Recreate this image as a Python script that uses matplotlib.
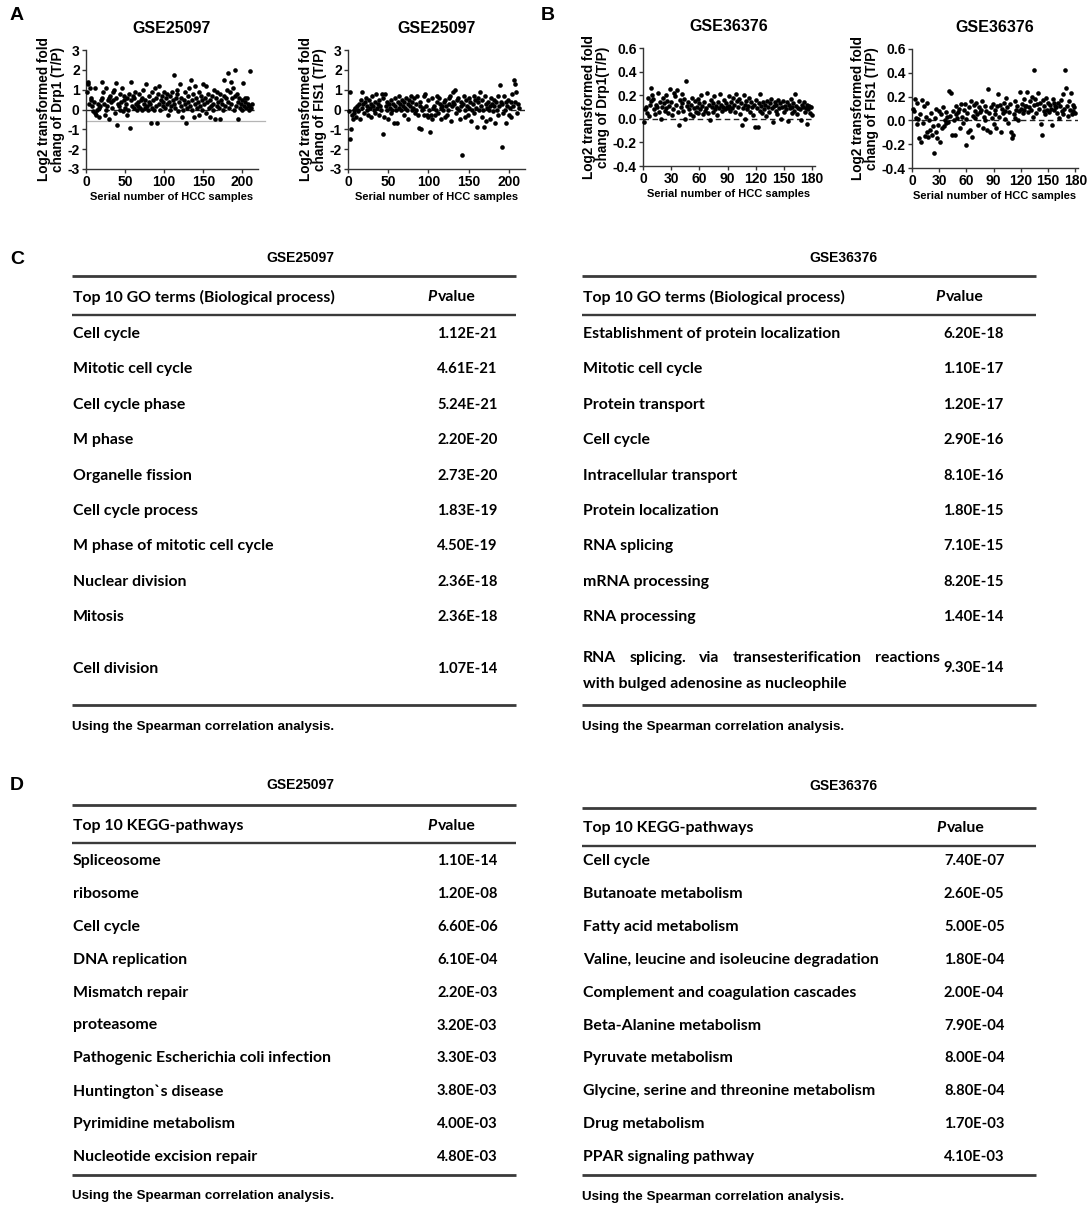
import matplotlib
matplotlib.use("Agg")
import matplotlib.pyplot as plt
from matplotlib.lines import Line2D
import numpy as np

plt.rcParams['font.family'] = ['Liberation Sans', 'DejaVu Sans']

W, H = 1092, 1207

# ---------------- scatter data ----------------
drp1_25097 = [
    0.9, 1.3, 1.4, 0.3, 1.1, 0.6, 0.5, 0.2, -0.1, 0.4,
    1.1, -0.2, -0.3, 0.0, 0.3, -0.4, 0.1, 0.2, 0.5, 1.4,
    0.6, 0.9, 0.3, -0.3, 0.0, 1.1, 0.2, 0.5, 0.6, -0.5,
    0.7, 0.4, 0.1, 0.5, 0.9, 1.0, -0.2, 1.35, 0.6, -0.8,
    0.3, 0.2, 0.8, 0.0, 0.4, 1.1, -0.1, 0.5, 0.7, 0.1,
    0.3, 0.6, -0.3, 0.0, 0.8, -0.95, 1.4, 0.5, 0.2, 0.7,
    0.1, 0.6, 0.9, 0.3, 0.0, 0.4, 0.2, 0.8, 0.1, 0.5,
    0.6, 0.0, 1.0, 0.3, 0.1, 0.5, 1.3, 0.2, 0.0, 0.4,
    0.7, 0.3, -0.7, 0.1, 0.9, 0.5, 0.0, 1.1, 0.2, 0.6,
    -0.7, 0.8, 0.3, 1.2, 0.0, 0.5, 0.7, 0.4, 0.2, 0.9,
    0.1, 0.6, 0.3, 0.8, -0.3, 0.4, 0.0, 0.7, 0.2, 0.9,
    0.5, 1.75, 0.3, 0.1, 0.6, 0.8, 1.0, -0.1, 0.4, 1.3,
    0.2, 0.6, -0.4, 0.0, 0.5, 0.3, 0.9, -0.7, 0.1, 0.4,
    0.7, 1.1, 0.2, 1.5, 0.0, 0.5, 0.8, -0.4, 0.3, 1.2,
    0.6, 0.1, 0.4, -0.3, 0.9, 0.2, 0.7, 0.5, 0.0, 1.3,
    0.3, 0.6, 1.2, -0.2, 0.4, 0.8, 0.1, 0.5, -0.4, 0.2,
    0.7, 0.0, 0.3, 1.0, -0.5, 0.6, 0.2, 0.9, 0.4, 0.1,
    0.8, -0.5, 0.5, 0.3, 0.0, 0.7, 1.5, 0.2, 0.6, 1.0,
    0.4, 1.85, 0.1, 0.9, 0.3, 1.4, 0.6, 1.1, 0.0, 2.0,
    0.7, 0.2, 0.8, 0.4, -0.5, 0.6, 0.1, 0.3, 0.0, 0.5,
    1.35, 0.2, 0.4, 0.6, 0.1, 0.6, 0.3, 0.0, 0.2, 1.95,
    0.1, 0.3,
]

fis1_25097 = [
    -0.1, -1.5, 0.9, -1.0, -0.3, -0.5, 0.0, -0.2, 0.1, -0.4,
    0.2, -0.1, 0.0, 0.3, -0.5, 0.5, 0.1, 0.9, 0.3, -0.2,
    0.4, 0.6, 0.0, 0.2, -0.3, 0.5, 0.1, 0.3, -0.4, 0.7,
    0.2, 0.0, 0.4, -0.2, 0.8, 0.1, 0.3, -0.3, 0.5, 0.2,
    0.0, 0.8, -1.25, 0.6, -0.4, 0.8, 0.2, 0.4, 0.0, -0.5,
    0.3, 0.1, 0.5, -0.2, 0.0, 0.3, -0.7, 0.2, 0.6, 0.0,
    -0.7, 0.4, 0.1, 0.7, 0.3, 0.0, 0.5, 0.2, -0.3, 0.4,
    0.1, 0.6, 0.0, 0.3, -0.5, 0.5, 0.2, 0.7, 0.4, 0.0,
    0.1, 0.6, -0.2, 0.3, 0.0, 0.7, -0.3, -0.95, 0.2, 0.4,
    -1.0, 0.0, 0.1, 0.7, -0.3, 0.8, 0.2, -0.3, 0.5, -0.4,
    0.0, -1.15, -0.3, 0.6, -0.5, 0.1, 0.2, -0.3, 0.0, 0.4,
    0.7, -0.2, 0.6, 0.3, -0.5, 0.1, 0.2, 0.0, 0.4, -0.4,
    0.5, 0.2, -0.3, 0.0, 0.6, 0.3, 0.7, -0.6, 0.2, 0.4,
    0.9, 0.3, 1.0, -0.2, 0.5, 0.1, 0.6, 0.0, -0.5, 0.2,
    0.4, -2.3, 0.3, 0.7, 0.0, -0.4, 0.5, 0.2, -0.3, 0.6,
    0.1, 0.4, -0.6, 0.0, 0.3, 0.7, -0.2, 0.5, 0.1, -0.9,
    0.4, 0.6, 0.0, 0.9, 0.2, -0.4, 0.5, 0.0, -0.9, 0.7,
    0.3, -0.6, 0.1, 0.4, 0.0, -0.5, 0.2, 0.6, 0.3, -0.1,
    0.5, 0.2, -0.7, 0.4, 0.0, 0.7, -0.3, 0.2, 1.25, 0.4,
    -1.9, 0.3, -0.2, 0.7, 0.0, 0.4, -0.7, 0.2, 0.5, -0.3,
    0.1, 0.4, -0.4, 0.8, 0.2, 1.5, 0.4, 1.3, 0.9, -0.2,
    0.3, 0.1,
]

drp1_36376 = [
    -0.03, 0.08, 0.10, 0.05, 0.18, 0.02, 0.12, 0.26, 0.15, 0.20,
    0.17, 0.08, 0.04, 0.12, 0.10, 0.22, 0.06, 0.14, 0.00, 0.10,
    0.18, 0.13, 0.07, 0.20, 0.09, 0.15, 0.05, 0.11, 0.25, 0.14,
    0.03, 0.08, 0.22, 0.19, 0.12, 0.24, 0.06, -0.05, 0.16, 0.10,
    0.21, 0.13, 0.07, 0.17, 0.00, 0.32, 0.11, 0.14, 0.08, 0.04,
    0.12, 0.18, 0.02, 0.09, 0.15, 0.06, 0.10, 0.17, 0.05, 0.13,
    0.08, 0.20, 0.11, 0.04, 0.14, 0.07, 0.09, 0.22, 0.05, 0.12,
    -0.01, 0.16, 0.10, 0.06, 0.13, 0.19, 0.08, 0.11, 0.03, 0.14,
    0.09, 0.21, 0.12, 0.07, 0.10, 0.16, 0.08, 0.13, 0.10, 0.09,
    0.19, 0.11, 0.07, 0.14, 0.09, 0.18, 0.12, 0.06, 0.21, 0.15,
    0.10, 0.17, 0.04, 0.13, -0.05, 0.09, 0.20, 0.12, 0.00, 0.15,
    0.08, 0.11, 0.18, 0.06, 0.14, 0.10, 0.03, 0.12, -0.07, 0.16,
    0.09, -0.07, 0.13, 0.07, 0.21, 0.11, 0.05, 0.14, 0.08, 0.12,
    0.02, 0.15, 0.10, 0.06, 0.13, 0.17, 0.09, -0.03, 0.11, 0.14,
    0.07, 0.12, 0.04, 0.16, 0.09, 0.13, 0.00, 0.10, 0.15, 0.06,
    0.11, 0.08, 0.14, -0.02, 0.12, 0.09, 0.17, 0.05, 0.10, 0.13,
    0.07, 0.21, 0.11, 0.04, 0.09, 0.15, 0.08, -0.01, 0.12, 0.10,
    0.14, 0.06, 0.09, 0.12, -0.04, 0.08, 0.11, 0.05, 0.10, 0.03,
]

fis1_36376 = [
    0.10, 0.08, 0.18, 0.02, -0.03, 0.15, 0.01, -0.15, 0.05, -0.18,
    0.17, -0.02, 0.12, -0.13, 0.03, -0.10, 0.15, -0.14, 0.00, -0.08,
    0.06, -0.12, -0.05, -0.27, 0.02, -0.10, 0.10, -0.15, -0.04, 0.08,
    -0.18, 0.05, -0.06, 0.11, -0.05, 0.00, -0.02, 0.07, 0.03, -0.01,
    0.25, 0.04, 0.23, -0.12, 0.08, 0.00, -0.12, 0.05, 0.12, 0.02,
    0.07, 0.10, -0.06, 0.14, 0.03, -0.02, 0.09, 0.14, -0.21, 0.01,
    0.06, -0.10, 0.11, -0.08, 0.16, -0.14, 0.04, 0.13, 0.08, 0.02,
    0.15, 0.05, -0.04, 0.11, 0.07, 0.09, 0.16, -0.06, 0.03, 0.12,
    0.00, 0.08, -0.08, 0.26, 0.06, -0.10, 0.11, 0.02, 0.14, -0.03,
    0.09, 0.05, -0.06, 0.12, 0.22, 0.03, 0.13, -0.10, 0.10, 0.06,
    0.15, 0.01, 0.08, 0.19, 0.11, -0.02, 0.07, 0.14, -0.10, -0.15,
    -0.12, 0.05, 0.16, 0.02, 0.09, 0.12, 0.00, 0.08, 0.24, 0.10,
    0.14, 0.06, 0.18, 0.09, 0.12, 0.12, 0.24, 0.07, 0.11, 0.16,
    0.09, 0.20, 0.03, 0.13, 0.42, 0.18, 0.06, 0.14, 0.23, 0.10,
    0.15, -0.03, -0.12, 0.17, 0.08, 0.12, 0.05, 0.19, 0.09, 0.15,
    0.07, 0.13, 0.10, -0.04, 0.18, 0.09, 0.15, 0.12, 0.11, 0.06,
    0.15, 0.02, 0.12, 0.17, 0.08, 0.22, 0.05, 0.10, 0.42, 0.27,
    0.12, 0.04, 0.16, 0.09, 0.23, 0.05, 0.13, 0.08, 0.11, 0.06,
]

xticks_25097 = [0, 50, 100, 150, 200]
yticks_25097 = [-3, -2, -1, 0, 1, 2, 3]
xticks_36376 = [0, 30, 60, 90, 120, 150, 180]
yticks_36376 = [-0.4, -0.2, 0.0, 0.2, 0.4, 0.6]

# ---------------- table data ----------------
go_terms_25097 = ["Cell cycle", "Mitotic cell cycle", "Cell cycle phase", "M phase",
                  "Organelle fission", "Cell cycle process", "M phase of mitotic cell cycle",
                  "Nuclear division", "Mitosis", "Cell division"]
go_p_25097 = ["1.12E-21", "4.61E-21", "5.24E-21", "2.20E-20", "2.73E-20",
              "1.83E-19", "4.50E-19", "2.36E-18", "2.36E-18", "1.07E-14"]

go_terms_36376 = ["Establishment of protein localization", "Mitotic cell cycle",
                  "Protein transport", "Cell cycle", "Intracellular transport",
                  "Protein localization", "RNA splicing", "mRNA processing",
                  "RNA processing",
                  "RNA splicing. via transesterification reactions\nwith bulged adenosine as nucleophile"]
go_p_36376 = ["6.20E-18", "1.10E-17", "1.20E-17", "2.90E-16", "8.10E-16",
              "1.80E-15", "7.10E-15", "8.20E-15", "1.40E-14", "9.30E-14"]

kegg_25097 = ["Spliceosome", "ribosome", "Cell cycle", "DNA replication", "Mismatch repair",
              "proteasome", "Pathogenic Escherichia coli infection", "Huntington`s disease",
              "Pyrimidine metabolism", "Nucleotide excision repair"]
kegg_p_25097 = ["1.10E-14", "1.20E-08", "6.60E-06", "6.10E-04", "2.20E-03",
                "3.20E-03", "3.30E-03", "3.80E-03", "4.00E-03", "4.80E-03"]

kegg_36376 = ["Cell cycle", "Butanoate metabolism", "Fatty acid metabolism",
              "Valine, leucine and isoleucine degradation", "Complement and coagulation cascades",
              "Beta-Alanine metabolism", "Pyruvate metabolism",
              "Glycine, serine and threonine metabolism", "Drug metabolism",
              "PPAR signaling pathway"]
kegg_p_36376 = ["7.40E-07", "2.60E-05", "5.00E-05", "1.80E-04", "2.00E-04",
                "7.90E-04", "8.00E-04", "8.80E-04", "1.70E-03", "4.10E-03"]

go_header = "Top 10 GO terms (Biological process)"
kegg_header = "Top 10 KEGG-pathways"
footer_text = "Using the Spearman correlation analysis."

# ---------------- figure ----------------
fig = plt.figure(figsize=(W / 100, H / 100), dpi=100)
fig.patch.set_facecolor('white')


def fx(x):
    return x / W


def fy(y):
    return 1 - y / H


def scatter_panel(l, r, t, b, values, xlim, ylim, xticks, yticks, yfmt, title, ylabel, extra_line=None):
    ax = fig.add_axes([fx(l), fy(b), (r - l) / W, (b - t) / H])
    xs = np.arange(1, len(values) + 1)
    ax.axhline(0, color='#222222', lw=1.0, ls=(0, (4, 2.5)), zorder=2)
    if extra_line is not None:
        ax.plot([xlim[0], xlim[1] * 1.04], [extra_line, extra_line], color='#b5b5b5',
                lw=0.9, ls='-', clip_on=False, zorder=1)
    ax.scatter(xs, values, s=11, c='black', linewidths=0, zorder=3, clip_on=False)
    ax.set_xlim(*xlim)
    ax.set_ylim(*ylim)
    for s in ['top', 'right']:
        ax.spines[s].set_visible(False)
    for s in ['left', 'bottom']:
        ax.spines[s].set_color('#333333')
        ax.spines[s].set_linewidth(1.0)
    ax.set_xticks(xticks)
    ax.set_yticks(yticks)
    ax.set_yticklabels([yfmt.format(v) for v in yticks])
    ax.tick_params(length=3, width=1, color='#333333', pad=1.5, labelsize=10)
    for lab in ax.get_xticklabels() + ax.get_yticklabels():
        lab.set_fontweight('bold')
    ax.set_title(title, fontsize=11.5, fontweight='bold', pad=12)
    ax.set_ylabel(ylabel, fontsize=9.8, fontweight='bold', labelpad=2, linespacing=1.0)
    ax.set_xlabel("Serial number of HCC samples", fontsize=8, fontweight='bold', labelpad=2)
    return ax


scatter_panel(86, 258, 50, 169, drp1_25097, (0, 220), (-3, 3), xticks_25097, yticks_25097, "{:g}",
              "GSE25097", "Log2 transformed fold\nchang of Drp1 (T/P)", extra_line=-0.58)
scatter_panel(348, 525, 50, 169, fis1_25097, (0, 220), (-3, 3), xticks_25097, yticks_25097, "{:g}",
              "GSE25097", "Log2 transformed fold\nchang of FIS1 (T/P)")
scatter_panel(643, 815, 48, 166, drp1_36376, (0, 183), (-0.4, 0.6), xticks_36376, yticks_36376, "{:.1f}",
              "GSE36376", "Log2 transformed fold\nchang of Drp1(T/P)")
scatter_panel(912, 1078, 49, 168, fis1_36376, (0, 183), (-0.4, 0.6), xticks_36376, yticks_36376, "{:.1f}",
              "GSE36376", "Log2 transformed fold\nchang of FIS1 (T/P)")

# panel letters
for letter, x, y in [("A", 10, 16), ("B", 541, 16), ("C", 10, 259), ("D", 10, 785)]:
    fig.text(fx(x), fy(y), letter, fontsize=14, fontweight='bold', va='center', ha='left')

# ---------------- tables ----------------
TFONT = ['Lato', 'DejaVu Sans']
TSIZE = 11.4
PSIZE = 10.6
LINE_COL = '#3a3a3a'

fig.canvas.draw()
renderer = fig.canvas.get_renderer()


def hline(x0, x1, y, lw):
    fig.add_artist(Line2D([fx(x0), fx(x1)], [fy(y), fy(y)], transform=fig.transFigure,
                          color=LINE_COL, lw=lw, solid_capstyle='butt'))


def text_width(t):
    return t.get_window_extent(renderer=renderer).width


def draw_table(x0, x1, title, title_x, title_y, top_y, header_y, hl_y, bottom_y, footer_y,
               header, ph_x, pv_x, labels, pvals, row_ys, special_rows=None):
    fig.text(fx(title_x), fy(title_y), title, fontsize=10, fontweight='bold',
             ha='center', va='center')
    hline(x0, x1, top_y, 2.0)
    hline(x0, x1, hl_y, 1.7)
    hline(x0, x1, bottom_y, 2.0)
    fig.text(fx(x0 + 1), fy(header_y), header, family=TFONT, fontsize=TSIZE, fontweight='bold',
             ha='left', va='center')
    tp = fig.text(fx(ph_x), fy(header_y), "P", family=TFONT, fontsize=TSIZE, fontweight='bold',
                  style='italic', ha='left', va='center')
    wp = text_width(tp)
    fig.text(fx(ph_x) + (wp + 2) / W, fy(header_y), "value", family=TFONT, fontsize=TSIZE,
             fontweight='bold', ha='left', va='center')
    for i, (lab, pv) in enumerate(zip(labels, pvals)):
        y = row_ys[i]
        if special_rows and i in special_rows:
            l1y, l2y, pvy = special_rows[i]
            line1, line2 = lab.split("\n")
            words = line1.split(" ")
            objs = [fig.text(0, fy(l1y), w_, family=TFONT, fontsize=TSIZE, fontweight='bold',
                             ha='left', va='center') for w_ in words]
            widths = [text_width(o) for o in objs]
            span = (pv_x - 3) - (x0 + 1)
            gap = (span - sum(widths)) / (len(words) - 1)
            cx = x0 + 1
            for o, wd in zip(objs, widths):
                o.set_x(fx(cx))
                cx += wd + gap
            fig.text(fx(x0 + 1), fy(l2y), line2, family=TFONT, fontsize=TSIZE, fontweight='bold',
                     ha='left', va='center')
            fig.text(fx(pv_x), fy(pvy), pv, family=TFONT, fontsize=PSIZE, fontweight='bold',
                     ha='left', va='center')
        else:
            fig.text(fx(x0 + 1), fy(y), lab, family=TFONT, fontsize=TSIZE, fontweight='bold',
                     ha='left', va='center')
            fig.text(fx(pv_x), fy(y), pv, family=TFONT, fontsize=PSIZE, fontweight='bold',
                     ha='left', va='center')
    fig.text(fx(x0), fy(footer_y), footer_text, fontsize=9.6, fontweight='bold', ha='left', va='center')


rows_c = [334 + i * 35.4 for i in range(9)] + [669]
rows_d = [861 + i * 32.9 for i in range(10)]

draw_table(72, 516, "GSE25097", 300, 258, 276, 297, 315, 705, 727, go_header, 427, 437,
           go_terms_25097, go_p_25097, rows_c)
draw_table(582, 1036, "GSE36376", 843, 258, 276, 297, 315, 705, 727, go_header, 935, 943,
           go_terms_36376, go_p_36376, rows_c, special_rows={9: (658, 684, 668)})
draw_table(72, 516, "GSE25097", 300, 785, 805, 826, 843, 1175, 1196, kegg_header, 427, 437,
           kegg_25097, kegg_p_25097, rows_d)
draw_table(582, 1036, "GSE36376", 843, 786, 808, 828, 846, 1175, 1197, kegg_header, 936, 944,
           kegg_36376, kegg_p_36376, rows_d)

fig.savefig("out.png", dpi=100, facecolor='white')
